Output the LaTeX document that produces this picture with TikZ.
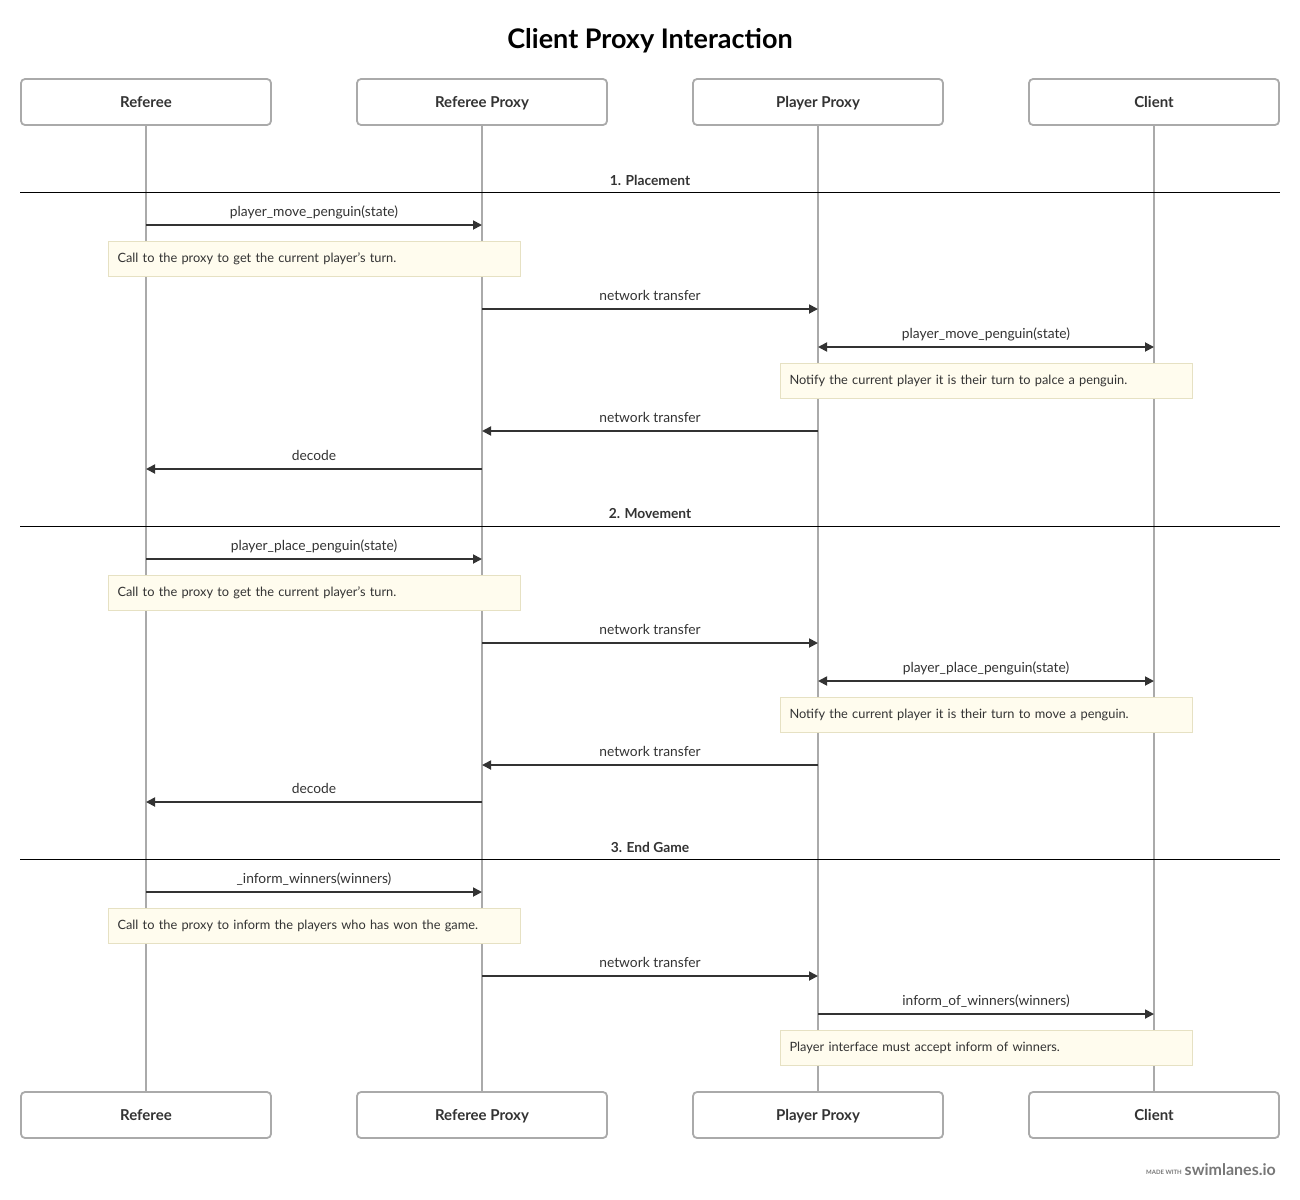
\documentclass[tikz,border=0pt]{standalone}
\usepackage{fontspec}
\setmainfont{Lato}
\usetikzlibrary{arrows.meta}
\definecolor{life}{HTML}{AAAAAA}
\definecolor{ink}{HTML}{333333}
\definecolor{notefill}{HTML}{FFFCEE}
\definecolor{noteline}{HTML}{E6E1C3}
\definecolor{brand}{HTML}{777777}
\begin{document}
\begin{tikzpicture}[x=1pt,y=-1pt,
  actor/.style={draw=life,line width=1.8pt,rounded corners=4pt,fill=white,minimum width=250pt,minimum height=46pt,inner sep=0pt,text height=13pt,text depth=3pt,font=\fontsize{15}{18}\selectfont\bfseries,text=ink},
  lifeline/.style={draw=life,line width=1.6pt},
  msg/.style={draw=ink,line width=1.8pt,-{Triangle[length=9pt,width=9pt]}},
  bmsg/.style={draw=ink,line width=1.8pt,{Triangle[length=9pt,width=9pt]}-{Triangle[length=9pt,width=9pt]}},
  lbl/.style={font=\fontsize{13.8}{16}\selectfont,text=ink,anchor=base,inner sep=0pt},
  note/.style={draw=noteline,fill=notefill,line width=1pt,minimum width=412pt,minimum height=35pt,text width=394pt,inner xsep=9pt,inner ysep=0pt,align=left,font=\fontsize{12.8}{15}\selectfont,text=ink,anchor=north west},
  section/.style={draw=black,line width=0.8pt},
  seclbl/.style={font=\fontsize{13.8}{16}\selectfont\bfseries,text=ink,inner sep=0pt}
]
\useasboundingbox (0,0) rectangle (1300,1199);
\fill[white] (0,0) rectangle (1300,1199);

\node[font=\fontsize{27}{32}\selectfont\bfseries,text=black] (title) at (650,41) {Client Proxy Interaction};

% actors top
\node[actor] (hR) at (146,102) {Referee};
\node[actor] (hRP) at (482,102) {Referee Proxy};
\node[actor] (hPP) at (818,102) {Player Proxy};
\node[actor] (hC) at (1154,102) {Client};
% actors bottom
\node[actor] (fR) at (146,1115) {Referee};
\node[actor] (fRP) at (482,1115) {Referee Proxy};
\node[actor] (fPP) at (818,1115) {Player Proxy};
\node[actor] (fC) at (1154,1115) {Client};

% lifelines
\draw[lifeline] (hR.south) -- (fR.north);
\draw[lifeline] (hRP.south) -- (fRP.north);
\draw[lifeline] (hPP.south) -- (fPP.north);
\draw[lifeline] (hC.south) -- (fC.north);

% section 1
\coordinate (s1a) at (20,192); \coordinate (s1b) at (1280,192);
\draw[section] (s1a) -- (s1b);
\node[seclbl] (s1) at (650,180) {1. Placement};

\coordinate (a1) at (146,225); \coordinate (b1) at (482,225);
\draw[msg] (a1) -- (b1) node[lbl,midway,yshift=8.5pt] (l1) {player\_move\_penguin(state)};
\node[note] (n1) at (108,241) {Call to the proxy to get the current player's turn.};

\coordinate (a2) at (482,309); \coordinate (b2) at (818,309);
\draw[msg] (a2) -- (b2) node[lbl,midway,yshift=8.5pt] (l2) {network transfer};

\coordinate (a3) at (818,347); \coordinate (b3) at (1154,347);
\draw[bmsg] (a3) -- (b3) node[lbl,midway,yshift=8.5pt] (l3) {player\_move\_penguin(state)};
\node[note] (n2) at (780,363) {Notify the current player it is their turn to palce a penguin.};

\coordinate (a4) at (818,431); \coordinate (b4) at (482,431);
\draw[msg] (a4) -- (b4) node[lbl,midway,yshift=8.5pt] (l4) {network transfer};

\coordinate (a5) at (482,469); \coordinate (b5) at (146,469);
\draw[msg] (a5) -- (b5) node[lbl,midway,yshift=8.5pt] (l5) {decode};

% section 2
\coordinate (s2a) at (20,526); \coordinate (s2b) at (1280,526);
\draw[section] (s2a) -- (s2b);
\node[seclbl] (s2) at (650,514) {2. Movement};

\coordinate (a6) at (146,559); \coordinate (b6) at (482,559);
\draw[msg] (a6) -- (b6) node[lbl,midway,yshift=8.5pt] (l6) {player\_place\_penguin(state)};
\node[note] (n3) at (108,575) {Call to the proxy to get the current player's turn.};

\coordinate (a7) at (482,643); \coordinate (b7) at (818,643);
\draw[msg] (a7) -- (b7) node[lbl,midway,yshift=8.5pt] (l7) {network transfer};

\coordinate (a8) at (818,681); \coordinate (b8) at (1154,681);
\draw[bmsg] (a8) -- (b8) node[lbl,midway,yshift=8.5pt] (l8) {player\_place\_penguin(state)};
\node[note] (n4) at (780,697) {Notify the current player it is their turn to move a penguin.};

\coordinate (a9) at (818,765); \coordinate (b9) at (482,765);
\draw[msg] (a9) -- (b9) node[lbl,midway,yshift=8.5pt] (l9) {network transfer};

\coordinate (a10) at (482,802); \coordinate (b10) at (146,802);
\draw[msg] (a10) -- (b10) node[lbl,midway,yshift=8.5pt] (l10) {decode};

% section 3
\coordinate (s3a) at (20,859); \coordinate (s3b) at (1280,859);
\draw[section] (s3a) -- (s3b);
\node[seclbl] (s3) at (650,847) {3. End Game};

\coordinate (a11) at (146,892); \coordinate (b11) at (482,892);
\draw[msg] (a11) -- (b11) node[lbl,midway,yshift=8.5pt] (l11) {\_inform\_winners(winners)};
\node[note] (n5) at (108,908) {Call to the proxy to inform the players who has won the game.};

\coordinate (a12) at (482,976); \coordinate (b12) at (818,976);
\draw[msg] (a12) -- (b12) node[lbl,midway,yshift=8.5pt] (l12) {network transfer};

\coordinate (a13) at (818,1014); \coordinate (b13) at (1154,1014);
\draw[msg] (a13) -- (b13) node[lbl,midway,yshift=8.5pt] (l13) {inform\_of\_winners(winners)};
\node[note] (n6) at (780,1030) {Player interface must accept inform of winners.};

% footer
\node[font=\fontsize{16}{18}\selectfont\bfseries,text=brand,anchor=base east,inner sep=0pt] (brand) at (1276,1175) {swimlanes.io};
\node[font=\fontsize{6}{7}\selectfont\bfseries,text=brand,anchor=base east,inner sep=0pt] (made) at (1182,1174) {MADE WITH};
\end{tikzpicture}
\end{document}
